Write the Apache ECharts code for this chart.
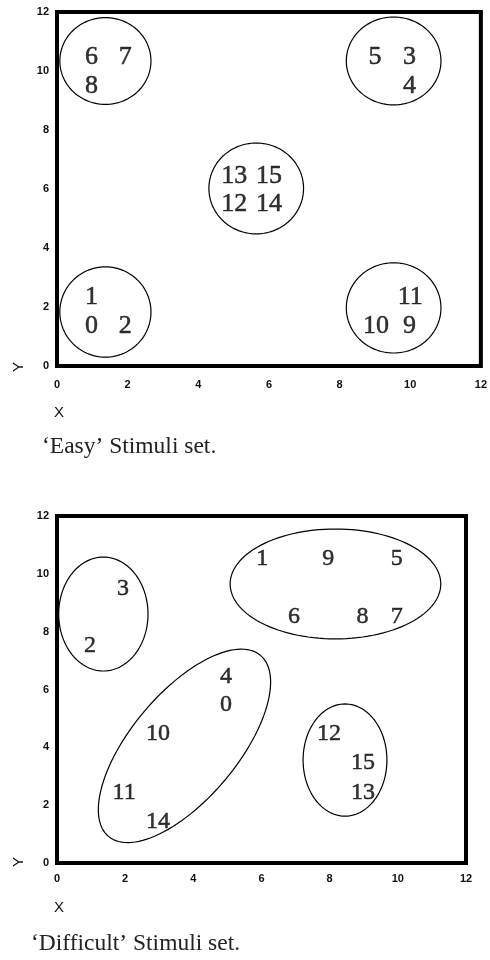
<!DOCTYPE html>
<html>
<head>
<meta charset="utf-8">
<script src="https://cdn.jsdelivr.net/npm/echarts@6/dist/echarts.min.js"></script>
<style>html,body{margin:0;padding:0;background:#fff}#c{width:490px;height:960px}</style>
</head>
<body>
<div id="c"></div>
<script>
// Tick labels shared by both panels
const tickValues = [0, 2, 4, 6, 8, 10, 12];

// 'Easy' stimuli set: labels and positions
const easyLabels = ['6', '7', '8', '5', '3', '4', '13', '15', '12', '14', '1', '0', '2', '11', '10', '9'];
const easyX = [0.98, 1.93, 0.98, 9.0, 9.98, 9.98, 5.02, 6.0, 5.02, 6.0, 0.98, 0.98, 1.93, 10.0, 9.03, 9.98];
const easyY = [10.47, 10.47, 9.49, 10.47, 10.47, 9.49, 6.44, 6.44, 5.49, 5.49, 2.34, 1.36, 1.36, 2.34, 1.36, 1.36];

// 'Easy' cluster outlines: centre and two conjugate semi-axis vectors (data units)
const easyEllCx = [1.37, 9.53, 5.64, 1.37, 9.53];
const easyEllCy = [10.34, 10.34, 6.02, 1.83, 1.97];
const easyEllUx = [1.29, 1.34, 1.34, 1.29, 1.34];
const easyEllUy = [0, 0, 0, 0, 0];
const easyEllVx = [0, 0, 0, 0, 0];
const easyEllVy = [1.47, 1.49, 1.54, 1.53, 1.53];

// 'Difficult' stimuli set: labels and positions
const diffLabels = ['1', '9', '5', '6', '8', '7', '3', '2', '4', '0', '10', '11', '14', '12', '15', '13'];
const diffX = [6.02, 7.96, 9.97, 6.95, 8.96, 9.97, 1.94, 0.97, 4.96, 4.96, 2.96, 1.97, 2.96, 7.98, 8.98, 8.98];
const diffY = [10.51, 10.51, 10.51, 8.51, 8.51, 8.51, 9.47, 7.5, 6.43, 5.46, 4.46, 2.42, 1.42, 4.46, 3.46, 2.42];

// 'Difficult' cluster outlines
const diffEllCx = [8.17, 1.36, 3.74, 8.45];
const diffEllCy = [9.65, 8.61, 4.05, 3.56];
const diffEllUx = [3.09, 1.31, 2.23, 1.23];
const diffEllUy = [0, 0, 3.13, 0];
const diffEllVx = [0, 0, 1.19, 0];
const diffEllVy = [1.90, 1.97, -1.18, 1.94];

const captions = ['\u2018Easy\u2019 Stimuli set.', '\u2018Difficult\u2019 Stimuli set.'];

function pts(labels, xs, ys) {
  return labels.map((l, i) => ({ name: l, value: [xs[i], ys[i]] }));
}
function ells(cx, cy, ux, uy, vx, vy) {
  return cx.map((c, i) => [c, cy[i], ux[i], uy[i], vx[i], vy[i]]);
}
function renderEllipse(params, api) {
  const cx = api.value(0), cy = api.value(1), ux = api.value(2), uy = api.value(3), vx = api.value(4), vy = api.value(5);
  const points = [];
  const n = 120;
  for (let k = 0; k < n; k++) {
    const t = (2 * Math.PI * k) / n;
    points.push(api.coord([cx + ux * Math.cos(t) + vx * Math.sin(t), cy + uy * Math.cos(t) + vy * Math.sin(t)]));
  }
  return {
    type: 'polygon',
    shape: { points: points },
    style: { fill: 'none', stroke: '#000', lineWidth: 1.2 }
  };
}

const axisLabelStyle = { fontFamily: 'Liberation Sans, Arial, sans-serif', fontSize: 11, fontWeight: 'bold', color: '#111' };
function xAx(gi, margin) {
  return {
    gridIndex: gi, type: 'value', min: 0, max: 12, interval: 2,
    axisLine: { show: false }, axisTick: { show: false }, splitLine: { show: false },
    axisLabel: Object.assign({ margin: margin }, axisLabelStyle)
  };
}
function yAx(gi) {
  return {
    gridIndex: gi, type: 'value', min: 0, max: 12, interval: 2,
    axisLine: { show: false }, axisTick: { show: false }, splitLine: { show: false },
    axisLabel: Object.assign({ margin: 8 }, axisLabelStyle)
  };
}
function labelSeries(gi, data, size) {
  return {
    type: 'scatter', xAxisIndex: gi, yAxisIndex: gi, symbolSize: 0, data: data,
    label: {
      show: true, position: 'inside', formatter: p => p.name,
      fontFamily: 'Liberation Serif, Times New Roman, serif', fontSize: size, color: '#000',
      textBorderColor: '#000', textBorderWidth: 0.5
    },
    silent: true, z: 3
  };
}
function ellSeries(gi, data) {
  return {
    type: 'custom', xAxisIndex: gi, yAxisIndex: gi, data: data,
    renderItem: renderEllipse, encode: { x: 0, y: 1 }, silent: true, z: 2
  };
}

const chart = echarts.init(document.getElementById('c'), null, { renderer: 'canvas' });
chart.setOption({
  animation: false,
  backgroundColor: '#fff',
  grid: [
    { left: 57, top: 12, width: 428, height: 354, show: true, borderColor: '#000', borderWidth: 4, backgroundColor: 'transparent' },
    { left: 57, top: 516, width: 409, height: 347, show: true, borderColor: '#000', borderWidth: 4, backgroundColor: 'transparent' }
  ],
  xAxis: [xAx(0, 13), xAx(1, 10)],
  yAxis: [yAx(0), yAx(1)],
  graphic: [
    { type: 'text', left: 54, top: 405, style: { text: 'X', fontFamily: 'Liberation Sans, Arial, sans-serif', fontSize: 15, fill: '#111' } },
    { type: 'text', x: 11, y: 372, rotation: Math.PI / 2, style: { text: 'Y', fontFamily: 'Liberation Sans, Arial, sans-serif', fontSize: 15, fill: '#111' } },
    { type: 'text', left: 42, top: 435, style: { text: captions[0], fontFamily: 'Liberation Serif, Times New Roman, serif', fontSize: 23.5, fill: '#222' } },
    { type: 'text', left: 54, top: 900, style: { text: 'X', fontFamily: 'Liberation Sans, Arial, sans-serif', fontSize: 15, fill: '#111' } },
    { type: 'text', x: 11, y: 867, rotation: Math.PI / 2, style: { text: 'Y', fontFamily: 'Liberation Sans, Arial, sans-serif', fontSize: 15, fill: '#111' } },
    { type: 'text', left: 31, top: 932, style: { text: captions[1], fontFamily: 'Liberation Serif, Times New Roman, serif', fontSize: 23.5, fill: '#222' } }
  ],
  series: [
    ellSeries(0, ells(easyEllCx, easyEllCy, easyEllUx, easyEllUy, easyEllVx, easyEllVy)),
    labelSeries(0, pts(easyLabels, easyX, easyY), 26),
    ellSeries(1, ells(diffEllCx, diffEllCy, diffEllUx, diffEllUy, diffEllVx, diffEllVy)),
    labelSeries(1, pts(diffLabels, diffX, diffY), 24)
  ]
});
</script>
</body>
</html>
